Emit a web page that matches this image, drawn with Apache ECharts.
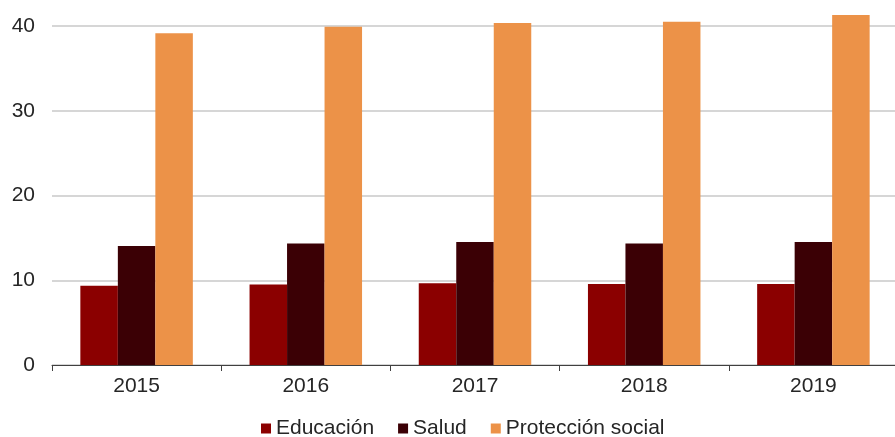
<!DOCTYPE html>
<html>
<head>
<meta charset="utf-8">
<script src="https://cdn.jsdelivr.net/npm/echarts@6/dist/echarts.min.js"></script>
<style>html,body{margin:0;padding:0;background:#fff;overflow:hidden;}#c{width:900px;height:437px;}</style>
</head>
<body>
<div id="c"></div>
<script>
const categories = ['2015', '2016', '2017', '2018', '2019'];
const educacion = [9.35, 9.5, 9.65, 9.55, 9.55];
const salud = [14.05, 14.35, 14.5, 14.35, 14.5];
const proteccion = [39.15, 39.9, 40.35, 40.5, 41.3];
const seriesNames = ['Educación', 'Salud', 'Protección social'];
const yTicks = { min: 0, max: 40, interval: 10 };

const chart = echarts.init(document.getElementById('c'));
const font = 'Liberation Sans, Arial, sans-serif';
const colors = ['#8b0000', '#3b0005', '#ec9248'];
const mk = (name, data, i) => ({
  name, type: 'bar', data, clip: false,
  barWidth: 37.5, barGap: '0%',
  itemStyle: { color: colors[i] },
  emphasis: { disabled: true }
});
chart.setOption({
  animation: false,
  textStyle: { fontFamily: font },
  grid: { left: 52, right: 2, top: 26, bottom: 72, containLabel: false },
  legend: {
    left: 256, top: 413,
    icon: 'rect', itemWidth: 10, itemHeight: 10, itemGap: 24,
    textStyle: { fontSize: 21, color: '#262626', fontFamily: font },
    data: seriesNames
  },
  xAxis: {
    type: 'category', data: categories,
    axisLine: { lineStyle: { color: '#404040', width: 1 } },
    axisTick: { show: true, length: 6, lineStyle: { color: '#404040' } },
    axisLabel: { fontSize: 21, color: '#262626', margin: 11, fontFamily: font }
  },
  yAxis: {
    type: 'value', min: yTicks.min, max: yTicks.max, interval: yTicks.interval,
    axisLine: { show: false }, axisTick: { show: false },
    splitLine: { lineStyle: { color: '#c8c8c8', width: 1.5 } },
    axisLabel: { fontSize: 21, color: '#262626', margin: 17, fontFamily: font }
  },
  series: [
    mk(seriesNames[0], educacion, 0),
    mk(seriesNames[1], salud, 1),
    mk(seriesNames[2], proteccion, 2)
  ]
});
</script>
</body>
</html>
